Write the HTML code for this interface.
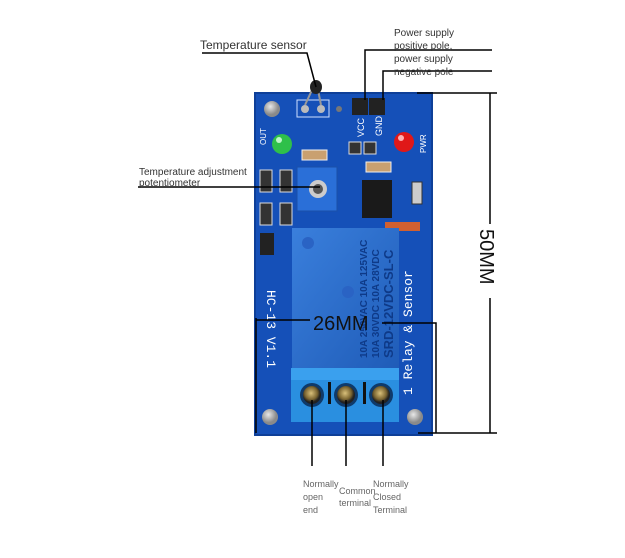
<!DOCTYPE html>
<html><head><style>
body{margin:0;background:#fff;width:625px;height:558px;overflow:hidden;font-family:"Liberation Sans",sans-serif}
svg{display:block}
</style></head><body>
<svg width="625" height="558" viewBox="0 0 625 558" xmlns="http://www.w3.org/2000/svg" font-family="Liberation Sans, sans-serif">
<defs>
<radialGradient id="g1" cx="40%" cy="35%"><stop offset="0" stop-color="#e8e8e8"/><stop offset="1" stop-color="#8a8a8a"/></radialGradient>
<radialGradient id="scr" cx="45%" cy="40%"><stop offset="0" stop-color="#d9c07a"/><stop offset="0.7" stop-color="#7a6430"/><stop offset="1" stop-color="#222"/></radialGradient>
<linearGradient id="relay" x1="0" y1="0" x2="1" y2="1"><stop offset="0" stop-color="#3a7fdc"/><stop offset="1" stop-color="#1f5cb8"/></linearGradient>
</defs>
<rect x="255" y="93" width="177" height="342" fill="#1550b8" rx="3"/>
<rect x="255" y="93" width="177" height="342" fill="none" stroke="#0e3f98" stroke-width="2"/>
<circle cx="272" cy="109" r="8" fill="url(#g1)"/>
<circle cx="270" cy="417" r="8" fill="url(#g1)"/>
<circle cx="415" cy="417" r="8" fill="url(#g1)"/>
<rect x="297" y="100" width="32" height="17" fill="none" stroke="#cfe0ff" stroke-width="1"/>
<circle cx="305" cy="109" r="4" fill="#bbb"/><circle cx="321" cy="109" r="4" fill="#bbb"/>
<circle cx="339" cy="109" r="3" fill="#777"/>
<path d="M305 105 L312 90 M321 105 L318 90" stroke="#999" stroke-width="2"/>
<ellipse cx="316" cy="87" rx="6" ry="7" fill="#222"/>
<rect x="352" y="98" width="16" height="17" fill="#222"/><rect x="369" y="98" width="16" height="17" fill="#222"/>
<text x="364" y="137" fill="#fff" font-size="9" transform="rotate(-90 364 137)">VCC</text>
<text x="382" y="136" fill="#fff" font-size="9" transform="rotate(-90 382 136)">GND</text>
<circle cx="282" cy="144" r="10" fill="#2fc04a"/><circle cx="279" cy="140" r="3" fill="#bff5c8"/>
<circle cx="404" cy="142" r="10" fill="#e01818"/><circle cx="401" cy="138" r="3" fill="#ffb0b0"/>
<text x="266" y="145" fill="#fff" font-size="8" transform="rotate(-90 266 145)">OUT</text>
<text x="426" y="153" fill="#fff" font-size="8" transform="rotate(-90 426 153)">PWR</text>
<rect x="302" y="150" width="25" height="10" fill="#c9a070" stroke="#eee"/>
<rect x="366" y="162" width="25" height="10" fill="#c9a070" stroke="#eee"/>
<rect x="349" y="142" width="12" height="12" fill="#333" stroke="#ddd"/><rect x="364" y="142" width="12" height="12" fill="#333" stroke="#ddd"/>
<rect x="260" y="170" width="12" height="22" fill="#333" stroke="#ddd"/><rect x="280" y="170" width="12" height="22" fill="#333" stroke="#ddd"/>
<rect x="260" y="203" width="12" height="22" fill="#333" stroke="#ddd"/><rect x="280" y="203" width="12" height="22" fill="#333" stroke="#ddd"/>
<rect x="260" y="233" width="14" height="22" fill="#222"/>
<rect x="412" y="182" width="10" height="22" fill="#ccc" stroke="#333"/>
<rect x="385" y="222" width="35" height="9" fill="#d06030"/>
<rect x="297" y="167" width="40" height="44" fill="#2a6fd8" stroke="#1a4fa8"/>
<circle cx="318" cy="189" r="9" fill="#ccc"/><circle cx="318" cy="189" r="5" fill="#555"/>
<rect x="362" y="180" width="30" height="38" fill="#1a1a1a"/>
<rect x="292" y="228" width="107" height="140" fill="url(#relay)"/>
<text transform="translate(367,358) rotate(-90)" fill="#0e3a88" font-size="10" font-weight="bold">10A 250VAC 10A 125VAC</text>
<text transform="translate(379,358) rotate(-90)" fill="#0e3a88" font-size="10" font-weight="bold">10A 30VDC 10A 28VDC</text>
<text transform="translate(393,358) rotate(-90)" fill="#0e3a88" font-size="13" font-weight="bold">SRD-12VDC-SL-C</text>
<circle cx="308" cy="243" r="6" fill="#2a63c4"/><circle cx="348" cy="292" r="6" fill="#2a63c4"/>
<text transform="translate(267,290) rotate(90)" fill="#fff" font-size="13" font-family="Liberation Mono, monospace">HC-13 V1.1</text>
<text transform="translate(412,395) rotate(-90)" fill="#fff" font-size="13" font-family="Liberation Mono, monospace">1 Relay &amp; Sensor</text>
<rect x="291" y="368" width="108" height="54" fill="#2a8fe0"/>
<rect x="291" y="368" width="108" height="12" fill="#3aa0ee"/>
<circle cx="312" cy="395" r="12" fill="#0f3a6a"/><circle cx="312" cy="395" r="9" fill="url(#scr)"/>
<circle cx="346" cy="395" r="12" fill="#0f3a6a"/><circle cx="346" cy="395" r="9" fill="url(#scr)"/>
<circle cx="381" cy="395" r="12" fill="#0f3a6a"/><circle cx="381" cy="395" r="9" fill="url(#scr)"/>
<rect x="328" y="382" width="3" height="22" fill="#111"/><rect x="363" y="382" width="3" height="22" fill="#111"/>
<g stroke="#000" stroke-width="1.5" fill="none">
<path d="M202 53 L307 53 L316 87"/>
<path d="M138 187 L320 187"/>
<path d="M365 100 L365 50 L492 50"/>
<path d="M383 100 L383 71 L492 71"/>
<path d="M417 93 L497 93"/><path d="M490 93 L490 224"/><path d="M490 298 L490 433"/><path d="M418 433 L497 433"/>
<path d="M256 318 L256 433"/><path d="M256 320 L310 320"/><path d="M382 323 L436 323 L436 433"/>
<path d="M312 400 L312 466"/><path d="M346 400 L346 466"/><path d="M383 400 L383 466"/>
</g>
<text x="200" y="49" font-size="12" fill="#333">Temperature sensor</text>
<text x="139" y="175" font-size="10" fill="#333">Temperature adjustment</text>
<text x="139" y="186" font-size="10" fill="#333">potentiometer</text>
<text x="394" y="36" font-size="10" fill="#333">Power supply</text>
<text x="394" y="49" font-size="10" fill="#333">positive pole,</text>
<text x="394" y="62" font-size="10" fill="#333">power supply</text>
<text x="394" y="75" font-size="10" fill="#333">negative pole</text>
<text x="313" y="330" font-size="20" fill="#111">26MM</text>
<text transform="translate(480,229) rotate(90)" font-size="20" fill="#111">50MM</text>
<g font-size="9" fill="#666">
<text x="303" y="487">Normally</text><text x="303" y="500">open</text><text x="303" y="513">end</text>
<text x="339" y="494">Common</text><text x="339" y="506">terminal</text>
<text x="373" y="487">Normally</text><text x="373" y="500">Closed</text><text x="373" y="513">Terminal</text>
</g>
</svg>
</body></html>
